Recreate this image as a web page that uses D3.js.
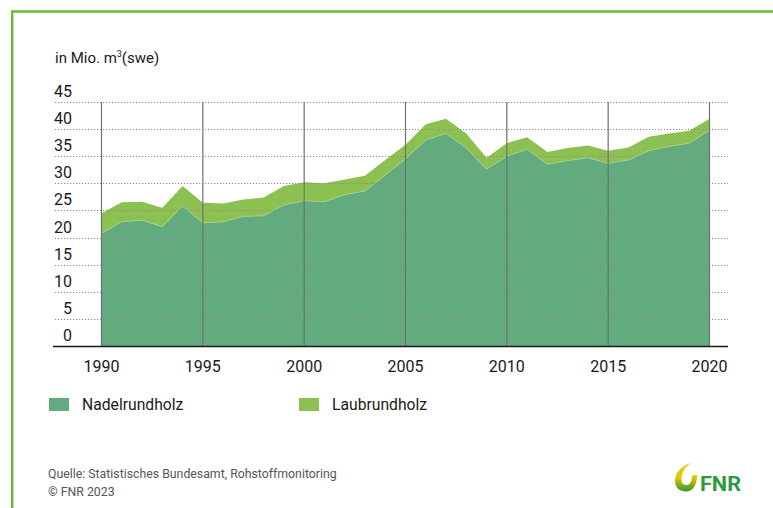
<!DOCTYPE html>
<html>
<head>
<meta charset="utf-8">
<script src="https://cdn.jsdelivr.net/npm/d3@7"></script>
<style>
  html, body { margin: 0; padding: 0; background: #fff; }
  svg text { font-family: Roboto, "Open Sans", sans-serif; }
</style>
</head>
<body>
<svg id="chart" width="773" height="508"></svg>
<script>
const years = [1990,1991,1992,1993,1994,1995,1996,1997,1998,1999,2000,2001,2002,2003,2004,2005,2006,2007,2008,2009,2010,2011,2012,2013,2014,2015,2016,2017,2018,2019,2020];
const nadelrundholz = [20.8,22.9,23.2,22.0,25.8,22.7,22.9,23.9,24.0,26.0,26.8,26.6,27.9,28.6,31.5,34.5,38.0,39.2,36.5,32.6,35.0,36.3,33.5,34.2,34.7,33.7,34.3,36.0,36.8,37.4,39.8];
const laubrundholz = [3.7,3.6,3.4,3.5,3.7,3.7,3.4,3.1,3.4,3.5,3.4,3.4,2.8,2.8,2.8,2.6,2.9,2.7,2.7,2.1,2.4,2.2,2.3,2.3,2.3,2.3,2.3,2.6,2.4,2.3,2.1];
const yTicks = [0,5,10,15,20,25,30,35,40,45];
const xTicks = [1990,1995,2000,2005,2010,2015,2020];
const seriesNames = ["Nadelrundholz","Laubrundholz"];
const colors = ["#62ab7e","#8cc152"];

const svg = d3.select("#chart");

// frame
svg.append("line").attr("x1",11).attr("x2",773).attr("y1",11.5).attr("y2",11.5).attr("stroke","#6cb83a").attr("stroke-width",2.4);
svg.append("line").attr("x1",12.2).attr("x2",12.2).attr("y1",10.3).attr("y2",508).attr("stroke","#6cb83a").attr("stroke-width",2.4);

const x = d3.scaleLinear().domain([1990,2020]).range([101.5,709.5]);
const y = d3.scaleLinear().domain([0,45]).range([346,102]);

const rows = years.map((yr,i)=>({year:yr, Nadelrundholz:nadelrundholz[i], Laubrundholz:laubrundholz[i]}));
const stack = d3.stack().keys(seriesNames)(rows);

const area = d3.area().x(d=>x(d.data.year)).y0(d=>y(d[0])).y1(d=>y(d[1]));
svg.append("g").selectAll("path").data(stack).join("path")
  .attr("d",area).attr("fill",(d,i)=>colors[i]);
// thin light separator line
svg.append("path").datum(stack[0])
  .attr("d", d3.line().x(d=>x(d.data.year)).y(d=>y(d[1])))
  .attr("fill","none").attr("stroke","#a6d08c").attr("stroke-width",0.8);

// horizontal dotted grid
svg.append("g").selectAll("line").data(yTicks.filter(t=>t>0)).join("line")
  .attr("x1",55).attr("x2",728).attr("y1",d=>Math.round(y(d))+0.5).attr("y2",d=>Math.round(y(d))+0.5)
  .attr("stroke","#8a8a8a").attr("stroke-width",1).attr("stroke-dasharray","1.2,1.8");

// vertical grid
svg.append("g").selectAll("line").data(xTicks).join("line")
  .attr("x1",d=>x(d)).attr("x2",d=>x(d)).attr("y1",y(45)).attr("y2",y(0))
  .attr("stroke","#707070").attr("stroke-width",1.2);

// baseline
svg.append("line").attr("x1",53).attr("x2",728).attr("y1",346.5).attr("y2",346.5).attr("stroke","#1a1a1a").attr("stroke-width",1.6);

// y tick labels
svg.append("g").selectAll("text").data(yTicks).join("text")
  .attr("x",72).attr("y",d=>y(d)-5).attr("text-anchor","end")
  .attr("font-size",16).attr("fill","#1a1a1a").text(d=>d);

// x tick labels
svg.append("g").selectAll("text").data(xTicks).join("text")
  .attr("x",d=>x(d)).attr("y",372).attr("text-anchor","middle")
  .attr("font-size",16).attr("fill","#1a1a1a").text(d=>d);

// unit label
const ut = svg.append("text").attr("x",55).attr("y",63).attr("font-size",15).attr("fill","#1a1a1a");
ut.append("tspan").text("in Mio. m");
ut.append("tspan").attr("dy",-6).attr("font-size",9).text("3");
ut.append("tspan").attr("dy",6).text("(swe)");

// legend
const legX = [49,299];
const lg = svg.append("g").selectAll("g").data(seriesNames).join("g")
  .attr("transform",(d,i)=>`translate(${legX[i]},398)`);
lg.append("rect").attr("width",20).attr("height",13).attr("fill",(d,i)=>colors[i]);
lg.append("text").attr("x",33).attr("y",12).attr("font-size",15.7).attr("fill","#1a1a1a").text(d=>d);

// source
svg.append("text").attr("x",48).attr("y",478).attr("font-size",12.3).attr("fill","#555").text("Quelle: Statistisches Bundesamt, Rohstoffmonitoring");
svg.append("text").attr("x",48).attr("y",496).attr("font-size",12.3).attr("fill","#555").text("© FNR 2023");

// logo
const defs = svg.append("defs");
const gr = defs.append("linearGradient").attr("id","lg1").attr("gradientUnits","userSpaceOnUse")
  .attr("x1",0).attr("y1",463).attr("x2",0).attr("y2",491);
gr.append("stop").attr("offset","0%").attr("stop-color","#f4c400");
gr.append("stop").attr("offset","55%").attr("stop-color","#dcc600");
gr.append("stop").attr("offset","100%").attr("stop-color","#2f9a35");
svg.append("path")
  .attr("d","M691,463 C681,466 675,473 675,481 C675,488 680,491.5 686,491.5 C693,491.5 697,485 697,475 L692,475.5 C692,481 690,485 686.5,485 C683,485 681,482.5 681.5,478 C682,471 686,466 691,463 Z")
  .attr("fill","url(#lg1)");
svg.append("text").attr("x",700).attr("y",490.5).attr("font-size",21).attr("font-weight","bold")
  .attr("textLength",41).attr("lengthAdjust","spacingAndGlyphs")
  .attr("fill","#2e9a3c").text("FNR");
</script>
</body>
</html>
